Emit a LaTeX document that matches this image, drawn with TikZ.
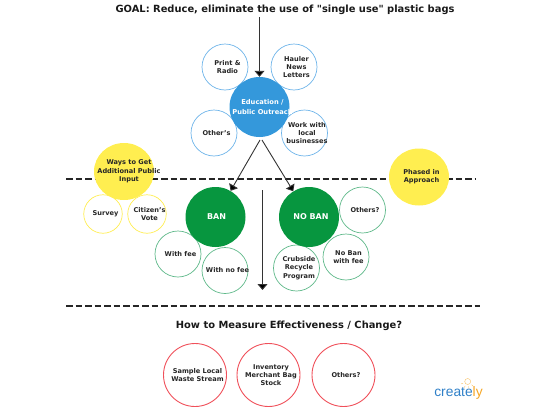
\documentclass[tikz,border=0pt]{standalone}
\usepackage{fontspec}
\setmainfont{DejaVu Sans}
\newfontfamily\plainfont{DejaVu Sans}
\newfontfamily\logofont{Liberation Sans}
\usetikzlibrary{arrows.meta,calc,positioning,shapes.geometric}
\definecolor{outreachcolor}{HTML}{3498DB}
\definecolor{outreachline}{HTML}{6FB5EA}
\definecolor{bancolor}{HTML}{07963F}
\definecolor{banline}{HTML}{5FB98A}
\definecolor{inputcolor}{HTML}{FFEE50}
\definecolor{measureline}{HTML}{F0505A}
\definecolor{logoblue}{HTML}{2F80C8}
\definecolor{logoorange}{HTML}{F5A623}
\tikzset{
  bubble text/.style={align=center, xshift=2.5pt, font=\fontsize{6.6}{8.3}\selectfont\bfseries, text=black!85},
  big text/.style={align=center, text=white, font=\fontsize{6.7}{9.4}\selectfont\bfseries},
  big bubble/.style={circle, inner sep=0pt, minimum size=60pt},
  small bubble/.style={circle, draw, fill=white, line width=0.7pt, inner sep=0pt, minimum size=46pt},
  outreach bubble/.style={small bubble, draw=outreachline},
  ban bubble/.style={small bubble, draw=banline},
  measure bubble/.style={small bubble, draw=measureline, line width=0.9pt, minimum size=63pt},
  input bubble/.style={ellipse, fill=inputcolor, inner sep=0pt, minimum width=60pt, minimum height=57pt},
  vote bubble/.style={small bubble, draw=inputcolor, minimum size=38.5pt},
  heading/.style={font=\plainfont\fontsize{9.9}{11}\selectfont\bfseries, text=black!90},
  flow arrow/.style={black!80, line width=0.9pt, -{Triangle[length=6pt,width=10pt,fill=black]}},
  divider/.style={black!85, line width=1.2pt, dash pattern=on 6.5pt off 3pt}
}
\begin{document}
\begin{tikzpicture}[x=1pt,y=-1pt]
  \useasboundingbox (0,0) rectangle (550,410);

  % Headings and the two dashed dividers.
  \node[heading] (goal) at (285,10) {GOAL: Reduce, eliminate the use of "single use" plastic bags};
  \node[heading] (measure) at (289,326) {How to Measure Effectiveness / Change?};
  \coordinate (divAL) at (66,179);
  \coordinate (divAR) at (476,179);
  \coordinate (divBL) at (66,306);
  \coordinate (divBR) at (480,306);
  \draw[divider] (divAL) -- (divAR);
  \draw[divider] (divBL) -- (divBR);

  % Education group.
  \node[outreach bubble, label={[bubble text]center:Print \&\\Radio}] (print) at (225,67) {};
  \node[outreach bubble, label={[bubble text]center:Hauler\\News\\Letters}] (hauler) at (294,67) {};
  \node[outreach bubble, label={[bubble text]center:Other's}] (others) at (214,133) {};
  \node[outreach bubble, label={[bubble text]center:Work with\\local\\businesses}] (work) at (304.5,133) {};
  \node[big bubble, fill=outreachcolor, label={[big text, xshift=3pt]center:Education /\\Public Outreach}] (education) at (259.5,107) {};

  % Ban and no ban.
  \node[ban bubble, label={[bubble text]center:With fee}] (withfee) at (178,254) {};
  \node[ban bubble, label={[bubble text]center:With no fee}] (nofee) at (225,270.5) {};
  \node[ban bubble, label={[bubble text]center:Others?}] (banothers) at (362.5,210) {};
  \node[ban bubble, label={[bubble text]center:No Ban\\with fee}] (nobanfee) at (346,257) {};
  \node[ban bubble, label={[bubble text]center:Crubside\\Recycle\\Program}] (curbside) at (296.5,268) {};
  \node[big bubble, fill=bancolor, label={[big text, xshift=1pt, font=\fontsize{8}{10}\selectfont\bfseries]center:BAN}] (ban) at (215.5,217) {};
  \node[big bubble, fill=bancolor, label={[big text, xshift=2pt, font=\fontsize{8}{10}\selectfont\bfseries]center:NO BAN}] (noban) at (309,217) {};

  % Public input, left and right of the divider.
  \node[vote bubble, label={[bubble text]center:Survey}] (survey) at (103,214) {};
  \node[vote bubble, label={[bubble text]center:Citizen's\\Vote}] (vote) at (147,214) {};
  \node[input bubble, label={[bubble text, xshift=2.5pt]center:Ways to Get\\Additional Public\\Input}] (ways) at (124,171.5) {};
  \node[input bubble, label={[bubble text]center:Phased in\\Approach}] (phased) at (419,177) {};

  % Measures.
  \node[measure bubble, label={[bubble text]center:Sample Local\\Waste Stream}] (sample) at (195,375) {};
  \node[measure bubble, label={[bubble text]center:Inventory\\Merchant Bag\\Stock}] (inventory) at (268.5,375) {};
  \node[measure bubble, label={[bubble text]center:Others?}] (measureothers) at (343.5,375) {};

  % Arrows.
  \coordinate (goalout) at (259.5,17);
  \coordinate (splitL) at (260,140);
  \coordinate (splitR) at (262,140);
  \coordinate (midtop) at (262.5,190);
  \coordinate (midend) at (262.5,290);
  \draw[flow arrow] (goalout) -- (education);
  \draw[flow arrow] (splitL) -- (ban);
  \draw[flow arrow] (splitR) -- (noban);
  \draw[flow arrow] (midtop) -- (midend);

  % Logo.
  \node[font=\logofont\fontsize{13.8}{15}\selectfont, inner sep=0pt] (logo) at (458.5,393)
    {\textcolor{logoblue}{create}\textcolor{logoorange}{ly}};
  \fill[white, draw=logoorange!70, line width=0.4pt] (467.7,381.5) circle[radius=3pt];
  \foreach \a in {200,240,...,340}
    \draw[logoorange!70, line width=0.4pt] ($(467.7,381.5)+(\a:5pt)$) -- ($(467.7,381.5)+(\a:7pt)$);

\end{tikzpicture}
\end{document}
